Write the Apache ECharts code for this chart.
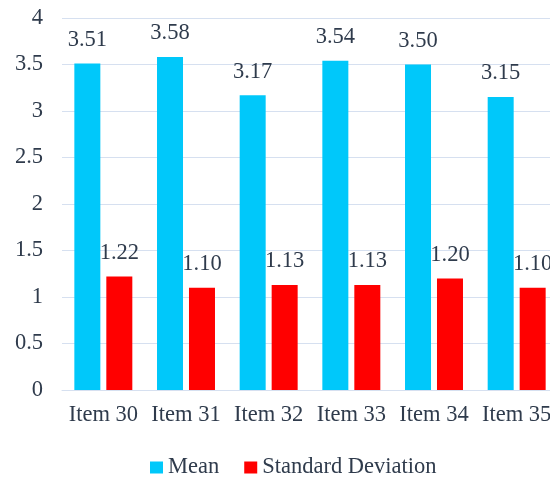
<!DOCTYPE html>
<html>
<head>
<meta charset="utf-8">
<script src="https://cdn.jsdelivr.net/npm/echarts@6/dist/echarts.min.js"></script>
<style>
  html, body { margin: 0; padding: 0; background: #ffffff; overflow: hidden; }
  /* canvas is a little wider than the window so the plot runs off the right edge */
  #chart { width: 562px; height: 478px; }
</style>
</head>
<body>
<div id="chart"></div>
<script>
// Item labels and the two summary statistics per item
const categories = ['Item 30', 'Item 31', 'Item 32', 'Item 33', 'Item 34', 'Item 35'];
const meanValues = [3.51, 3.58, 3.17, 3.54, 3.50, 3.15];
const sdValues = [1.22, 1.10, 1.13, 1.13, 1.20, 1.10];

const textColor = '#2f3b4c';
const fontFamily = 'Times New Roman, Liberation Serif, serif';
const fontSize = 22.5;

const chart = echarts.init(document.getElementById('chart'));
chart.setOption({
  animation: false,
  textStyle: { fontFamily: fontFamily },
  grid: { left: 62, width: 496, top: 18, height: 372, containLabel: false },
  legend: {
    top: 451,
    left: 145,
    itemWidth: 13,
    itemHeight: 12,
    itemGap: 25,
    icon: 'rect',
    textStyle: { fontFamily: fontFamily, fontSize: fontSize, color: textColor }
  },
  xAxis: {
    type: 'category',
    data: categories,
    axisLine: { show: true, lineStyle: { color: '#d6e0f0' } },
    axisTick: { show: false },
    axisLabel: { interval: 0, margin: 14, fontSize: fontSize, color: textColor, fontFamily: fontFamily }
  },
  yAxis: {
    type: 'value',
    min: 0,
    max: 4,
    interval: 0.5,
    axisLine: { show: false },
    axisTick: { show: false },
    splitLine: { lineStyle: { color: '#d6e0f0', width: 1 } },
    axisLabel: { margin: 19, fontSize: fontSize, color: textColor, fontFamily: fontFamily }
  },
  series: [
    {
      name: 'Mean',
      type: 'bar',
      data: meanValues,
      barWidth: 26,
      barGap: '23%',
      itemStyle: { color: '#00c8fa' },
      label: {
        show: true, position: 'top', distance: 12,
        fontSize: fontSize, color: textColor, fontFamily: fontFamily,
        formatter: p => p.value.toFixed(2)
      }
    },
    {
      name: 'Standard Deviation',
      type: 'bar',
      data: sdValues,
      barWidth: 26,
      itemStyle: { color: '#ff0000' },
      label: {
        show: true, position: 'top', distance: 12,
        fontSize: fontSize, color: textColor, fontFamily: fontFamily,
        formatter: p => p.value.toFixed(2)
      }
    }
  ]
});
</script>
</body>
</html>
